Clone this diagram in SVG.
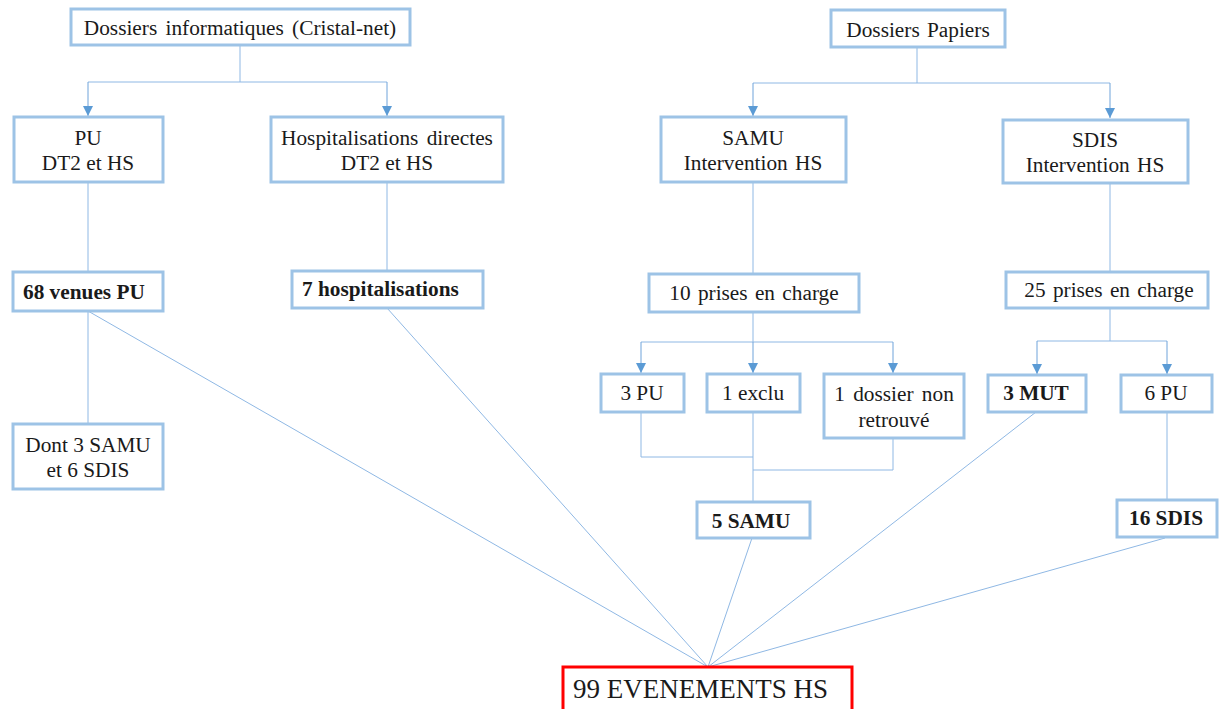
<svg xmlns="http://www.w3.org/2000/svg" width="1221" height="709" viewBox="0 0 1221 709">
<defs>
<style>
.box{fill:#fff;stroke:#9DC3E6;stroke-width:3}
.red{fill:#fff;stroke:#FF0000;stroke-width:3}
.t{font-family:"Liberation Serif","Times New Roman",serif;font-size:21.3px;fill:#1a1a1a;text-anchor:middle}
.b{font-weight:bold}
.s{text-anchor:start}
.ln{fill:none;stroke:#8FB8E4;stroke-width:1}
.ar{fill:none;stroke:#6FA3DA;stroke-width:1;marker-end:url(#arr)}
</style>
<marker id="arr" viewBox="0 0 10 10" refX="10" refY="5" markerWidth="10" markerHeight="10" markerUnits="userSpaceOnUse" orient="auto">
<path d="M0,0 L10,5 L0,10 z" fill="#5B9BD5"/>
</marker>
</defs>
<rect width="1221" height="709" fill="#fff"/>
<g id="connectors">
<path class="ln" d="M240,45 V82 M88,82 H387"/>
<path class="ar" d="M88,82 V116"/>
<path class="ar" d="M387,82 V116"/>
<path class="ln" d="M88,182 V272 M387,182 V271 M88,311 V424"/>
<path class="ln" d="M917,47 V83 M753,83 H1110"/>
<path class="ar" d="M753,83 V116"/>
<path class="ar" d="M1110,83 V118"/>
<path class="ln" d="M753,182 V274 M1110,183 V272"/>
<path class="ln" d="M753,312 V342 M641,342 H893"/>
<path class="ar" d="M641,342 V373"/>
<path class="ar" d="M753,342 V373"/>
<path class="ar" d="M893,342 V373"/>
<path class="ln" d="M641,412 V457 H753 M753,412 V502 M893,438 V470 H753"/>
<path class="ln" d="M1110,308 V341 M1037,341 H1167"/>
<path class="ar" d="M1037,341 V374"/>
<path class="ar" d="M1167,341 V374"/>
<path class="ln" d="M1167,412 V500"/>
<path class="ln" d="M88,311 L708,667 M387,308 L708,667 M752,538 L708,667 M1036,412 L708,667 M1165,538 L708,667"/>
</g>
<g id="n_info">
<rect class="box" x="71" y="9" width="339" height="36"/>
<text class="t" x="240" y="35" word-spacing="3">Dossiers informatiques (Cristal-net)</text>
</g>
<g id="n_pu">
<rect class="box" x="14" y="117" width="149" height="65"/>
<text class="t" x="88" y="145">PU</text>
<text class="t" x="88" y="170">DT2 et HS</text>
</g>
<g id="n_hosp">
<rect class="box" x="271" y="117" width="232" height="65"/>
<text class="t" x="387" y="145" word-spacing="3">Hospitalisations directes</text>
<text class="t" x="387" y="170">DT2 et HS</text>
</g>
<g id="n_68">
<rect class="box" x="13" y="272" width="150" height="39"/>
<text class="t b s" x="23" y="299">68 venues PU</text>
</g>
<g id="n_7">
<rect class="box" x="292" y="271" width="191" height="37"/>
<text class="t b s" x="302" y="296">7 hospitalisations</text>
</g>
<g id="n_dont">
<rect class="box" x="13" y="424" width="150" height="65"/>
<text class="t" x="88" y="452">Dont 3 SAMU</text>
<text class="t" x="88" y="477">et 6 SDIS</text>
</g>
<g id="n_pap">
<rect class="box" x="831" y="10" width="174" height="37"/>
<text class="t" x="918" y="37" word-spacing="2">Dossiers Papiers</text>
</g>
<g id="n_samu">
<rect class="box" x="661" y="117" width="185" height="65"/>
<text class="t" x="753" y="145">SAMU</text>
<text class="t" x="753" y="170" word-spacing="2">Intervention HS</text>
</g>
<g id="n_sdis">
<rect class="box" x="1003" y="120" width="185" height="63"/>
<text class="t" x="1095" y="147">SDIS</text>
<text class="t" x="1095" y="172" word-spacing="2">Intervention HS</text>
</g>
<g id="n_10">
<rect class="box" x="649" y="274" width="210" height="38"/>
<text class="t" x="754" y="300" word-spacing="2">10 prises en charge</text>
</g>
<g id="n_25">
<rect class="box" x="1006" y="272" width="202" height="36"/>
<text class="t" x="1109" y="297" word-spacing="2">25 prises en charge</text>
</g>
<g id="n_3pu">
<rect class="box" x="601" y="374" width="83" height="38"/>
<text class="t" x="642" y="400">3 PU</text>
</g>
<g id="n_exclu">
<rect class="box" x="707" y="374" width="93" height="38"/>
<text class="t" x="753" y="400">1 exclu</text>
</g>
<g id="n_nonret">
<rect class="box" x="824" y="374" width="140" height="64"/>
<text class="t" x="894" y="401" word-spacing="3">1 dossier non</text>
<text class="t" x="894" y="427">retrouvé</text>
</g>
<g id="n_5samu">
<rect class="box" x="697" y="502" width="113" height="36"/>
<text class="t b" x="751" y="528">5 SAMU</text>
</g>
<g id="n_mut">
<rect class="box" x="988" y="375" width="98" height="37"/>
<text class="t b" x="1036" y="400">3 MUT</text>
</g>
<g id="n_6pu">
<rect class="box" x="1121" y="375" width="91" height="37"/>
<text class="t" x="1166" y="400">6 PU</text>
</g>
<g id="n_16">
<rect class="box" x="1117" y="500" width="100" height="37"/>
<text class="t b" x="1166" y="525">16 SDIS</text>
</g>
<g id="n_99">
<rect class="red" x="563" y="667" width="289" height="50"/>
<text class="t s" x="573" y="698" style="font-size:27px">99 EVENEMENTS HS</text>
</g>
</svg>
